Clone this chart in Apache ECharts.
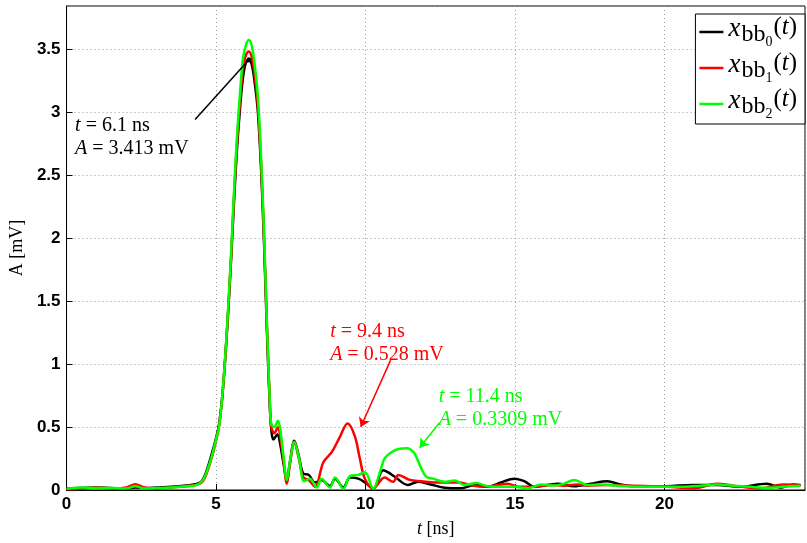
<!DOCTYPE html>
<html><head><meta charset="utf-8">
<script src="https://cdn.jsdelivr.net/npm/echarts@6/dist/echarts.min.js"></script>
<style>html,body{margin:0;padding:0;background:#fff}#c{width:807px;height:543px}</style>
</head><body><div id="c"></div>
<script>
// ---- data (t in ns, A in mV) ----
var seriesNames = ['x_bb0', 'x_bb1', 'x_bb2'];
var xTicks = [0, 5, 10, 15, 20];
var yTicks = [0, 0.5, 1, 1.5, 2, 2.5, 3, 3.5];

var tBlack = [0,0.5,1.0,1.5,2.0,2.3,2.7,3.0,3.5,4.0,4.3,4.5,4.65,4.85,5.0,5.1,5.2,5.3,5.4,5.5,5.6,5.7,5.8,5.9,6.0,6.1,6.2,6.3,6.4,6.5,6.6,6.7,6.8,6.85,6.92,7.05,7.15,7.25,7.37,7.47,7.62,7.77,7.92,8.1,8.31,8.53,8.81,8.98,9.26,9.48,9.76,9.98,10.26,10.59,10.76,10.98,11.42,11.76,12.09,12.64,13.2,13.64,14.09,14.53,14.98,15.31,15.64,16.09,16.42,16.98,17.53,18.09,18.53,19.2,20.09,20.98,21.76,22.53,23.42,23.87,24.31,24.55];
var aBlack = [0.01,0.015,0.02,0.015,0.01,0.02,0.015,0.02,0.025,0.035,0.045,0.065,0.13,0.28,0.41,0.52,0.72,1.02,1.39,1.81,2.28,2.70,3.02,3.27,3.39,3.413,3.37,3.22,3.00,2.58,2.00,1.28,0.66,0.48,0.40,0.44,0.36,0.22,0.08,0.22,0.39,0.27,0.13,0.12,0.06,0.08,0.03,0.09,0.02,0.10,0.09,0.06,0.01,0.157,0.14,0.105,0.04,0.065,0.05,0.018,0.013,0.04,0.026,0.06,0.09,0.07,0.026,0.04,0.05,0.03,0.05,0.07,0.044,0.026,0.03,0.04,0.04,0.026,0.05,0.018,0.044,0.04];

var tRed = [0,0.5,1.0,1.5,2.0,2.3,2.6,3.0,3.5,4.0,4.3,4.5,4.65,4.85,5.0,5.1,5.2,5.3,5.4,5.5,5.6,5.7,5.8,5.9,6.0,6.1,6.2,6.3,6.4,6.5,6.6,6.7,6.8,6.85,6.95,7.07,7.15,7.25,7.37,7.47,7.62,7.77,7.92,8.1,8.31,8.59,8.87,9.14,9.4,9.64,9.81,9.98,10.26,10.64,10.92,11.1,11.48,11.87,12.31,12.76,13.14,13.42,13.98,14.31,14.76,15.09,15.64,16.2,16.64,17.09,17.42,18.09,18.98,20.09,20.98,21.76,22.31,23.2,23.98,24.55];
var aRed = [0.005,0.01,0.02,0.01,0.02,0.045,0.02,0.01,0.02,0.03,0.04,0.055,0.11,0.25,0.39,0.51,0.71,1.02,1.40,1.83,2.32,2.75,3.08,3.34,3.45,3.48,3.43,3.28,3.05,2.63,2.05,1.32,0.69,0.50,0.45,0.50,0.42,0.25,0.05,0.20,0.38,0.25,0.10,0.08,0.026,0.22,0.30,0.42,0.528,0.43,0.25,0.09,0.013,0.10,0.065,0.12,0.08,0.07,0.06,0.06,0.06,0.044,0.026,0.034,0.05,0.026,0.026,0.04,0.034,0.044,0.034,0.04,0.034,0.026,0.013,0.05,0.034,0.013,0.044,0.036];

var tGreen = [0,0.5,1.0,1.5,2.0,2.3,2.6,3.0,3.5,4.0,4.3,4.5,4.65,4.85,5.0,5.1,5.2,5.3,5.4,5.5,5.6,5.7,5.8,5.9,6.0,6.1,6.2,6.3,6.4,6.5,6.6,6.7,6.8,6.85,6.95,7.07,7.15,7.25,7.37,7.47,7.62,7.77,7.95,8.14,8.37,8.53,8.81,8.98,9.26,9.48,9.76,9.98,10.26,10.48,10.64,10.87,11.1,11.4,11.52,11.64,11.87,12.03,12.26,12.64,12.98,13.31,13.7,14.09,14.53,14.98,15.42,15.87,16.31,16.64,16.98,17.42,17.87,18.42,18.98,19.53,20.09,20.64,21.2,21.76,22.31,22.87,23.42,23.98,24.55];
var aGreen = [0.01,0.02,0.015,0.015,0.012,0.03,0.012,0.015,0.02,0.03,0.035,0.06,0.12,0.26,0.40,0.50,0.72,1.03,1.42,1.86,2.36,2.80,3.14,3.42,3.53,3.57,3.52,3.36,3.12,2.68,2.08,1.34,0.70,0.52,0.50,0.55,0.48,0.28,0.08,0.22,0.38,0.26,0.07,0.09,0.02,0.09,0.02,0.10,0.01,0.11,0.12,0.14,0.01,0.14,0.25,0.30,0.325,0.3309,0.32,0.29,0.17,0.105,0.09,0.065,0.075,0.04,0.055,0.03,0.026,0.026,0.013,0.044,0.035,0.05,0.08,0.04,0.044,0.034,0.026,0.026,0.026,0.026,0.034,0.044,0.034,0.026,0.018,0.026,0.034];

// annotation anchors (data coords)
var annBlack = {text: ['6.1', '3.413'], at: [0.27, 2.80], from: [4.3, 2.94], to: [6.1, 3.413]};
var annRed   = {text: ['9.4', '0.528'], at: [8.8, 1.165], from: [10.84, 1.03], to: [9.84, 0.50]};
var annGreen = {text: ['11.4', '0.3309'], at: [12.43, 0.645], from: [12.48, 0.536], to: [11.81, 0.335]};

function zip(t, a) { var r = []; for (var i = 0; i < t.length; i++) r.push([t[i], a[i]]); return r; }

var serif = 'Liberation Serif';
function annLabel(ann, color) {
  return {
    show: true, position: 'right', distance: 0, color: color,
    fontFamily: serif, fontSize: 20, lineHeight: 23, align: 'left',
    formatter: '{i|t} = ' + ann.text[0] + ' ns\n{i|A} = ' + ann.text[1] + ' mV',
    rich: { i: { fontStyle: 'italic', fontFamily: serif, fontSize: 20, color: color, lineHeight: 23 } }
  };
}
function annSeriesExtras(ann, color, arrow) {
  return {
    markLine: {
      silent: true, animation: false,
      symbol: ['none', arrow ? 'arrow' : 'circle'], symbolSize: arrow ? 9 : 5,
      label: { show: false },
      lineStyle: { color: color, width: 1.5, type: 'solid' },
      data: [[{ coord: ann.from }, { coord: ann.to }]]
    },
    markPoint: {
      silent: true, animation: false,
      symbol: 'circle', symbolSize: 1, itemStyle: { color: 'rgba(0,0,0,0)' },
      label: annLabel(ann, color),
      data: [{ coord: ann.at }]
    }
  };
}

var colors = ['#000000', '#ff0000', '#00ff00'];
var datasets = [zip(tBlack, aBlack), zip(tRed, aRed), zip(tGreen, aGreen)];
var anns = [annBlack, annRed, annGreen];

var series = datasets.map(function (d, i) {
  var s = {
    name: seriesNames[i], type: 'line', data: d, symbol: 'none', smooth: 0.35,
    lineStyle: { color: colors[i], width: 2.5 }, itemStyle: { color: colors[i] },
    animation: false, z: 2 + i
  };
  var ex = annSeriesExtras(anns[i], colors[i], i > 0);
  s.markLine = ex.markLine; s.markPoint = ex.markPoint;
  return s;
});

var gridLine = { show: true, lineStyle: { color: '#9a9a9a', width: 1, type: [1, 3] } };
var tickFont = { fontFamily: 'Liberation Sans', fontWeight: 'bold', fontSize: 17, color: '#000' };

var chart = echarts.init(document.getElementById('c'), null, { renderer: 'canvas' });
chart.setOption({
  backgroundColor: '#fff',
  animation: false,
  grid: { left: 64, right: 2, top: 6, bottom: 48, show: true, borderColor: '#000', borderWidth: 1, backgroundColor: '#fff' },
  xAxis: {
    type: 'value', min: 0, max: 24.7, interval: 5,
    axisLine: { show: true, lineStyle: { color: '#000', width: 1 } },
    axisTick: { show: true, inside: true, length: 6, lineStyle: { color: '#000' } },
    axisLabel: Object.assign({ margin: 6, showMaxLabel: false, formatter: function (v) { return xTicks.indexOf(v) >= 0 ? String(v) : ''; } }, tickFont),
    splitLine: gridLine,
    name: '{i|t} [ns]', nameLocation: 'middle', nameGap: 30,
    nameTextStyle: { fontFamily: serif, fontSize: 18, color: '#000', rich: { i: { fontStyle: 'italic', fontFamily: serif, fontSize: 18 } } }
  },
  yAxis: {
    type: 'value', min: 0, max: 3.84, interval: 0.5,
    axisLine: { show: true, lineStyle: { color: '#000', width: 1 } },
    axisTick: { show: true, inside: true, length: 6, lineStyle: { color: '#000' } },
    axisLabel: Object.assign({ margin: 6, showMaxLabel: false, formatter: function (v) { return yTicks.indexOf(v) >= 0 ? String(v) : ''; } }, tickFont),
    splitLine: gridLine,
    name: 'A [mV]', nameLocation: 'middle', nameGap: 29,
    nameTextStyle: { fontFamily: serif, fontSize: 18, color: '#000' }
  },
  legend: {
    right: 2, top: 14, orient: 'vertical', align: 'left',
    backgroundColor: '#fff', borderColor: '#000', borderWidth: 1,
    padding: [1, 8, 3, 4], itemGap: 2, itemWidth: 24, itemHeight: 2.5, icon: 'rect',
    formatter: function (name) {
      var i = seriesNames.indexOf(name);
      return '{x|x}{b|bb}{s|' + i + '}{p|(}{t|t}{p|)}';
    },
    textStyle: {
      color: '#000', fontFamily: serif, fontSize: 25,
      rich: {
        x: { fontFamily: serif, fontStyle: 'italic', fontSize: 27, verticalAlign: 'top', padding: [0, 1, 0, 0] },
        b: { fontFamily: serif, fontSize: 24, verticalAlign: 'top', padding: [8, 0, 0, 0] },
        s: { fontFamily: serif, fontSize: 14, verticalAlign: 'top', padding: [20, 1, 0, 0] },
        p: { fontFamily: serif, fontSize: 25, verticalAlign: 'top', padding: [0, 0, 0, 0] },
        t: { fontFamily: serif, fontStyle: 'italic', fontSize: 25, verticalAlign: 'top', padding: [0, 0, 0, 0] }
      }
    },
    data: seriesNames
  },
  series: series
});
</script></body></html>
